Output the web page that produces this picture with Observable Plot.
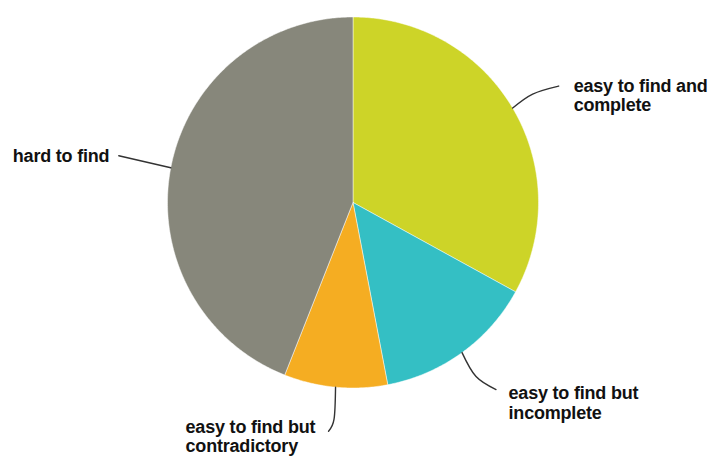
<!DOCTYPE html>
<html><head><meta charset="utf-8">
<script src="https://cdn.jsdelivr.net/npm/d3@7"></script>
<script src="https://cdn.jsdelivr.net/npm/@observablehq/plot@0.6"></script>
<style>body{margin:0;background:#fff}</style>
</head><body><div id="chart"></div>
<script>
// data
const categories = ["easy to find and complete", "easy to find but incomplete", "easy to find but contradictory", "hard to find"];
const labels = ["easy to find and\ncomplete", "easy to find but\nincomplete", "easy to find but\ncontradictory", "hard to find"];
const shares = [33, 14, 9, 44];
const colors = ["#cdd428", "#34bfc4", "#f5ad22", "#87877b"];

// layout (pixels)
const W = 709, H = 459, cx = 352.5, cy = 202, R = 185.5;
const leaderOffsets = [
  [[0, 0], [20, -14], [46, -22]],
  [[0, 0], [14, 24], [34, 37]],
  [[0, 0], [-1.5, 32], [-7, 44]],
  [[0, 0], [-52, -12]]
];
const labelOffsets = [[61, -13], [46.5, 50], [-150, 49], [-158, -12]];

const total = d3.sum(shares);
let acc = 0;
const slices = shares.map((v, i) => {
  const a0 = acc / total * 2 * Math.PI; acc += v;
  const a1 = acc / total * 2 * Math.PI;
  return {i, cat: categories[i], a0, a1, mid: (a0 + a1) / 2};
});
const pt = (a, r) => [cx + r * Math.sin(a), cy - r * Math.cos(a)];

const polyPts = [];
slices.forEach(s => {
  polyPts.push({cat: s.cat, x: cx, y: cy});
  const n = Math.max(2, Math.ceil((s.a1 - s.a0) / 0.01));
  for (let k = 0; k <= n; k++) {
    const [x, y] = pt(s.a0 + (s.a1 - s.a0) * k / n, R);
    polyPts.push({cat: s.cat, x, y});
  }
  polyPts.push({cat: s.cat, x: cx, y: cy});
});

const leaderPts = [];
const labelData = [];
slices.forEach(s => {
  const [ax, ay] = pt(s.mid, R);
  leaderOffsets[s.i].forEach(([dx, dy]) => leaderPts.push({cat: s.cat, x: ax + dx, y: ay + dy}));
  labelData.push({x: ax + labelOffsets[s.i][0], y: ay + labelOffsets[s.i][1], text: labels[s.i]});
});

const chart = Plot.plot({
  width: W, height: H,
  margin: 0,
  x: {domain: [0, W], range: [0, W], axis: null},
  y: {domain: [0, H], range: [0, H], axis: null},
  color: {domain: categories, range: colors},
  style: {fontFamily: "'Liberation Sans', Arial, sans-serif", letterSpacing: "-0.2px", background: "#fff"},
  marks: [
    Plot.line(polyPts, {x: "x", y: "y", z: "cat", fill: "cat", stroke: "#ffffff", strokeOpacity: 0.6, strokeWidth: 0.8, strokeLinejoin: "round"}),
    Plot.line(leaderPts, {x: "x", y: "y", z: "cat", curve: "natural", stroke: "#333333", strokeWidth: 1.4}),
    Plot.text(labelData, {x: "x", y: "y", text: "text", textAnchor: "start", lineAnchor: "middle", lineHeight: 1.1, fontSize: 18, fontWeight: "bold", fill: "#111111"})
  ]
});
document.getElementById("chart").appendChild(chart);
</script>
</body></html>
